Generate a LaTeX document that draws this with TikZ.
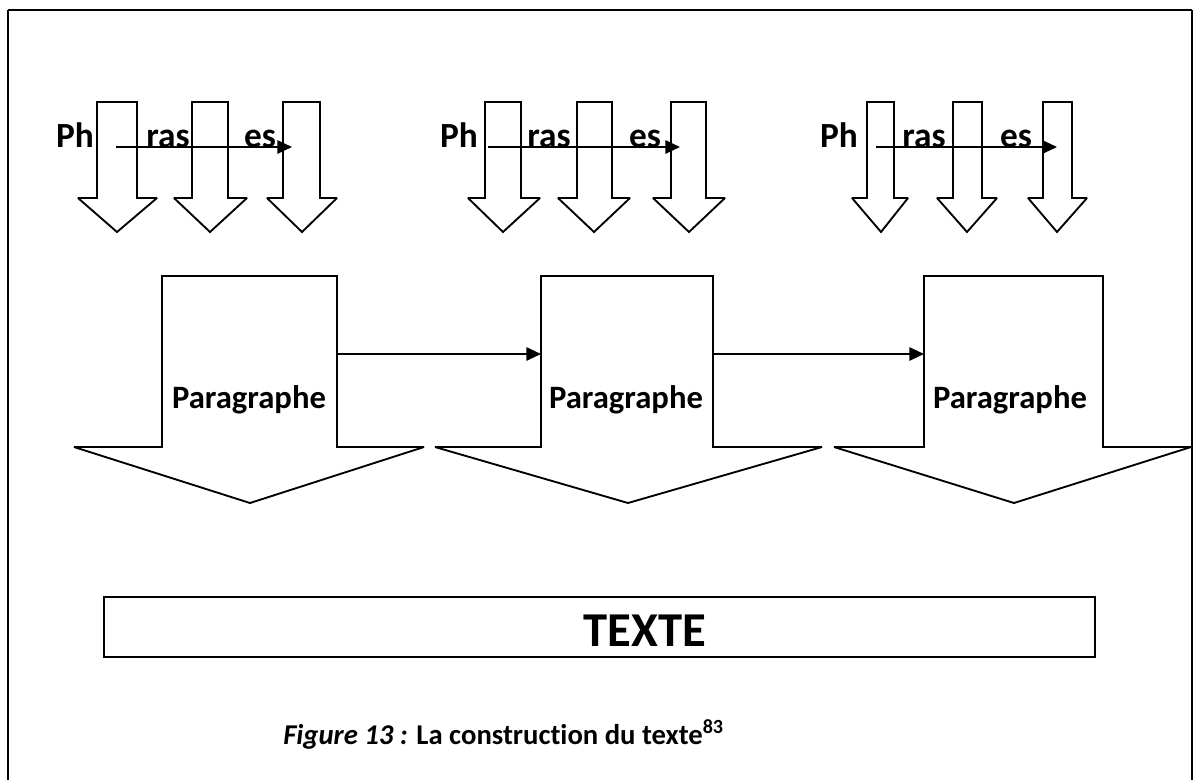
\documentclass[tikz,border=0pt]{standalone}
\usepackage{fontspec}
\setmainfont{Carlito}[Ligatures=NoCommon]
\usetikzlibrary{arrows.meta}
\tikzset{
  shape line/.style={draw=black, line width=1.4pt, line join=miter, miter limit=2, fill=white},
  frame line/.style={draw=black, line width=2pt},
  link/.style={draw=black, line width=1.4pt, -{Triangle[length=11pt,width=10pt]}},
  wordlbl/.style={font=\bfseries\fontsize{26.5}{30}\selectfont, inner sep=0pt, anchor=base},
  paralbl/.style={font=\bfseries\fontsize{24.5}{28}\selectfont, inner sep=0pt, anchor=base},
  textlbl/.style={font=\bfseries\fontsize{36.5}{40}\selectfont, inner sep=0pt, anchor=base},
  caplbl/.style={font=\bfseries\fontsize{21.5}{25}\selectfont, inner sep=0pt, anchor=base west},
}
% small down arrow: shaft left, shaft right, head left, head right, tip x
\newcommand\smallarrowshape[5]{%
  \draw[shape line] (#1,102) -- (#2,102) -- (#2,198) -- (#4,198) -- (#5,232) -- (#3,198) -- (#1,198) -- cycle;}
% big down arrow
\newcommand\bigarrowshape[6]{%
  \draw[shape line] (#1,276) -- (#2,276) -- (#2,447) -- (#4,447) -- (#5,503) -- (#3,447) -- (#1,447) -- cycle;
  \coordinate (#6L) at (#1,354); \coordinate (#6R) at (#2,354);}
\begin{document}
\begin{tikzpicture}[x=0.75pt,y=-0.75pt]
\useasboundingbox (0,0) rectangle (1198,779);
\fill[white] (0,0) rectangle (1198,779);
\draw[frame line] (8,10) -- (1192,10) (8,10) -- (8,800) (1192,10) -- (1192,800);

% group 1
\smallarrowshape{97}{137}{78}{157}{117}
\smallarrowshape{192}{228}{174}{247}{210}
\smallarrowshape{283}{320}{267}{337}{302}
% group 2
\smallarrowshape{485}{521}{468}{540}{503}
\smallarrowshape{577}{612}{558}{630}{594}
\smallarrowshape{671}{706}{653}{725}{689}
% group 3
\smallarrowshape{867}{894}{852}{908}{881}
\smallarrowshape{953}{982}{937}{997}{967}
\smallarrowshape{1043}{1072}{1028}{1087}{1057}

\coordinate (h1s) at (116,147); \coordinate (h1e) at (292,147);
\coordinate (h2s) at (488,147); \coordinate (h2e) at (680,147);
\coordinate (h3s) at (876,147); \coordinate (h3e) at (1057,147);
\draw[link] (h1s) -- (h1e);
\draw[link] (h2s) -- (h2e);
\draw[link] (h3s) -- (h3e);

\node[wordlbl] (ph1) at (75,147) {Ph};
\node[wordlbl] (ra1) at (168,147) {ras};
\node[wordlbl] (es1) at (260,147) {es};
\node[wordlbl] (ph2) at (459,147) {Ph};
\node[wordlbl] (ra2) at (549,147) {ras};
\node[wordlbl] (es2) at (645,147) {es};
\node[wordlbl] (ph3) at (839,147) {Ph};
\node[wordlbl] (ra3) at (924,147) {ras};
\node[wordlbl] (es3) at (1016,147) {es};

% paragraph arrows
\bigarrowshape{162}{337}{74}{424}{250}{pa}
\bigarrowshape{541}{713}{435}{822}{628}{pb}
\bigarrowshape{924}{1103}{834}{1191}{1014}{pc}
\draw[link] (paR) -- (pbL);
\draw[link] (pbR) -- (pcL);
\node[paralbl] (para1) at (249,408) {Paragraphe};
\node[paralbl] (para2) at (626,408) {Paragraphe};
\node[paralbl] (para3) at (1010,408) {Paragraphe};

% texte box
\draw[shape line] (104,597) rectangle (1095,657);
\node[textlbl] (texte) at (645,646) {TEXTE};

\node[caplbl] (cap) at (283,744) {\textit{Figure 13 :} La construction du texte\textsuperscript{83}};
\end{tikzpicture}
\end{document}
